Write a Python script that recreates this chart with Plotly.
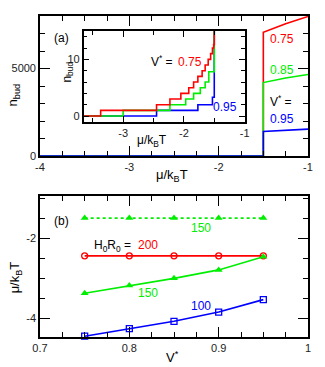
import plotly.graph_objects as go

# ---------------- data ----------------
# panel (a) main: n_bud vs mu/kBT
main_x = [-4.0, -1.5, -1.5, -1.25, -1.0]
main_red = [0, 0, 7070, 7560, 7970]
main_green = [0, 0, 4195, 4460, 4655]
main_blue = [0, 0, 1397, 1480, 1533]

# panel (a) inset: step curves
inset_red_x = [-3.65, -3.37, -2.45, -2.23, -2.05, -1.92, -1.84, -1.77, -1.70, -1.65, -1.60, -1.56, -1.53, -1.51, -1.5]
inset_red_y = [0, 1, 2, 3, 4, 5, 6, 7, 8, 9, 10, 11, 12, 12.6, 20]
inset_green_x = [-3.65, -3.0, -2.23, -1.97, -1.84, -1.73, -1.65, -1.59, -1.5]
inset_green_y = [0, 1, 2, 3, 4, 5, 6, 7.8, 20]
inset_blue_x = [-3.65, -2.45, -1.77, -1.53, -1.5]
inset_blue_y = [0, 1, 2, 3.3, 20]

# panel (b): mu/kBT vs V*
v_star = [0.75, 0.80, 0.85, 0.90, 0.95]
mu_200 = [-2.44, -2.44, -2.44, -2.44, -2.44]
mu_150_dot = [-1.5, -1.5, -1.5, -1.5, -1.5]
mu_150 = [-3.37, -3.18, -3.0, -2.79, -2.46]
mu_100 = [-4.44, -4.25, -4.07, -3.84, -3.53]

# tick labels
xa_vals = [-4, -3, -2, -1]
xa_text = ["-4", "-3", "-2", "-1"]
ya_vals = [0, 5000]
ya_text = ["0", "5000"]
xi_vals = [-3, -2, -1]
xi_text = ["-3", "-2", "-1"]
yi_vals = [0, 10]
yi_text = ["0", "10"]
xb_vals = [0.7, 0.8, 0.9, 1.0]
xb_text = ["0.7", "0.8", "0.9", "1"]
yb_vals = [-2, -4]
yb_text = ["-2", "-4"]

RED = "#ff0000"
GREEN = "#00ee00"
BLUE = "#0000ff"
FONT = "Liberation Sans"

fig = go.Figure()

# main (a)
for y, c in [(main_red, RED), (main_green, GREEN), (main_blue, BLUE)]:
    fig.add_trace(go.Scatter(x=main_x, y=y, mode="lines", line=dict(color=c, width=1.6),
                             xaxis="x", yaxis="y", showlegend=False, hoverinfo="skip"))
# inset
for xs, ys, c in [(inset_blue_x, inset_blue_y, BLUE), (inset_green_x, inset_green_y, GREEN),
                  (inset_red_x, inset_red_y, RED)]:
    fig.add_trace(go.Scatter(x=xs, y=ys, mode="lines", line=dict(color=c, width=1.6, shape="hv"),
                             xaxis="x3", yaxis="y3", showlegend=False, hoverinfo="skip"))
# (b)
fig.add_trace(go.Scatter(x=v_star, y=mu_150_dot, mode="lines+markers",
                         line=dict(color=GREEN, width=1.6, dash="dot"),
                         marker=dict(symbol="triangle-up", size=7, color=GREEN),
                         xaxis="x2", yaxis="y2", showlegend=False))
fig.add_trace(go.Scatter(x=v_star, y=mu_200, mode="lines+markers",
                         line=dict(color=RED, width=1.6),
                         marker=dict(symbol="circle-open", size=6, color=RED, line=dict(width=1.3)),
                         xaxis="x2", yaxis="y2", showlegend=False))
fig.add_trace(go.Scatter(x=v_star, y=mu_150, mode="lines+markers",
                         line=dict(color=GREEN, width=1.6),
                         marker=dict(symbol="triangle-up", size=7, color=GREEN),
                         xaxis="x2", yaxis="y2", showlegend=False))
fig.add_trace(go.Scatter(x=v_star, y=mu_100, mode="lines+markers",
                         line=dict(color=BLUE, width=1.6),
                         marker=dict(symbol="square-open", size=6, color=BLUE, line=dict(width=1.3)),
                         xaxis="x2", yaxis="y2", showlegend=False, cliponaxis=False))

def ax(rng, vals, text, minor_dtick, domain, anchor, **kw):
    d = dict(range=rng, domain=domain, anchor=anchor, tickmode="array", tickvals=vals, ticktext=text,
             ticks="inside", ticklen=10, tickwidth=1.3, tickcolor="black",
             showline=True, linecolor="black", linewidth=1.6, mirror="ticks",
             showgrid=False, zeroline=False,
             tickfont=dict(family=FONT, size=11, color="#222"),
             minor=dict(dtick=minor_dtick, ticks="inside", ticklen=5, tickwidth=1.3, tickcolor="black",
                        showgrid=False))
    d.update(kw)
    return d

W, H = 325, 367
L, R, T, B = 39, 14, 16, 30
pw, ph = W - L - R, H - T - B

def px(x):
    return (x - L) / pw

def py(y):
    return (H - B - y) / ph

top_dom = [py(156), 1.0]
bot_dom = [0.0, py(196)]
ins_x = [px(83.3), px(246.7)]
ins_y = [py(121.7), py(31)]

fig.update_layout(
    width=W, height=H, margin=dict(l=L, r=R, t=T, b=B),
    paper_bgcolor="white", plot_bgcolor="white",
    font=dict(family=FONT, color="black"),
    xaxis=ax([-4, -1], xa_vals, xa_text, 0.25, [0, 1], "y"),
    yaxis=ax([0, 8000], ya_vals, ya_text, 1000, top_dom, "x"),
    xaxis2=ax([0.7, 1.0], xb_vals, xb_text, 0.025, [0, 1], "y2"),
    yaxis2=ax([-4.46, -0.95], yb_vals, yb_text, 0.5, bot_dom, "x2"),
    xaxis3=ax([-3.65, -1], xi_vals, xi_text, 0.5, ins_x, "y3", ticklen=6),
    yaxis3=ax([-1, 15], yi_vals, yi_text, 2, ins_y, "x3", ticklen=6),
)
fig.layout.xaxis3.minor.ticklen = 4
fig.layout.yaxis3.minor.ticklen = 4

def ann(x, y, text, color="black", size=12, angle=0):
    fig.add_annotation(x=px(x), y=py(y), xref="paper", yref="paper", text=text, showarrow=False,
                       font=dict(family=FONT, size=size, color=color), textangle=angle,
                       xanchor="center", yanchor="middle")

# axis titles
ann(173, 175, "μ/k<sub>B</sub>T", size=13)
ann(12, 95, "n<sub>bud</sub>", size=13, angle=-90)
ann(173, 357, "V<sup>*</sup>", size=13)
ann(14, 277, "μ/k<sub>B</sub>T", size=13, angle=-90)
ann(67, 72, "n<sub>bud</sub>", size=12, angle=-90)
ann(153, 141, "μ/k<sub>B</sub>T", size=12)

# labels (a)
ann(61, 38, "(a)", size=12)
ann(285, 39, "0.75", RED)
ann(285, 70, "0.85", GREEN)
ann(284, 101, "V<sup>*</sup> =", "black")
ann(285, 119, "0.95", BLUE)
ann(163, 61, "V<sup>*</sup> =", "black")
ann(191, 62, "0.75", RED)
ann(227, 107, "0.95", BLUE)

# labels (b)
ann(61, 221, "(b)", size=12)
ann(202, 228, "150", GREEN)
ann(113, 246, "H<sub>0</sub>R<sub>0</sub> =", "black")
ann(149, 245, "200", RED)
ann(149, 293, "150", GREEN)
ann(202, 306, "100", BLUE)

fig.write_html("out.html", config={"displayModeBar": False},
               post_script="document.body.style.margin='0';document.body.style.padding='0';")
